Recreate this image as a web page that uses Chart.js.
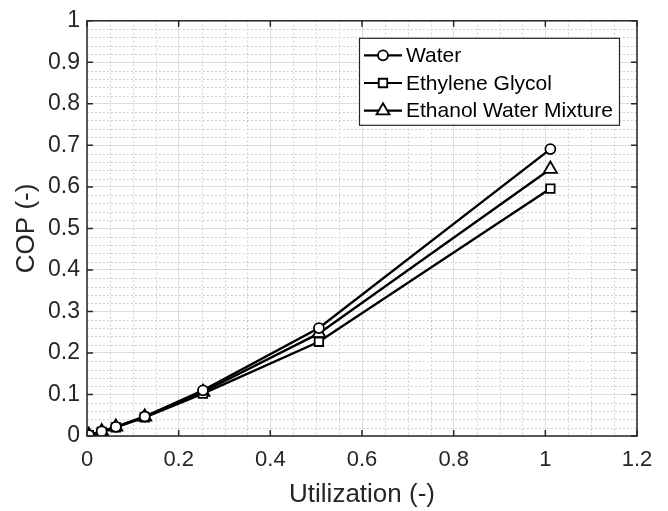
<!DOCTYPE html>
<html>
<head>
<meta charset="utf-8">
<script src="https://cdn.jsdelivr.net/npm/chart.js@4/dist/chart.umd.min.js"></script>
<style>
  html, body { margin: 0; padding: 0; background: #fff; }
  #wrap { width: 668px; height: 511px; position: relative; }
</style>
</head>
<body>
<div id="wrap"><canvas id="cop"></canvas></div>
<script>
// COP vs utilization for three working fluids
const utilization = [0.004, 0.032, 0.063, 0.126, 0.253, 0.506, 1.011];
const copWater    = [0.002, 0.011, 0.022, 0.047, 0.110, 0.260, 0.691];
const copGlycol   = [0.002, 0.010, 0.021, 0.045, 0.102, 0.227, 0.596];
const copEthanol  = [0.002, 0.011, 0.022, 0.046, 0.106, 0.247, 0.643];

const seriesNames = ["Water", "Ethylene Glycol", "Ethanol Water Mixture"];
const xTicks = [0, 0.2, 0.4, 0.6, 0.8, 1, 1.2];
const yTicks = [0, 0.1, 0.2, 0.3, 0.4, 0.5, 0.6, 0.7, 0.8, 0.9, 1];

const FONT = "'Liberation Sans', Arial, Helvetica, sans-serif";
const AXIS = "#262626";

function pts(ys) {
  return utilization.map((x, i) => ({ x, y: ys[i] }));
}

function series(label, ys, style, radius) {
  return {
    label,
    data: pts(ys),
    borderColor: "#000",
    borderWidth: 2.4,
    backgroundColor: "#fff",
    pointStyle: style,
    pointRadius: radius,
    pointBorderWidth: 1.8,
    pointBackgroundColor: "#fff",
    pointBorderColor: "#000",
    tension: 0
  };
}

// "1" not "1.0", "0.2" not "0.2000001"
const fmt = (v) => String(Math.round(v * 100) / 100);

// minor dotted grid, box outline and inward tick marks
const frame = {
  id: "frame",
  beforeDatasetsDraw(chart) {
    const { ctx, chartArea: a, scales: { x, y } } = chart;
    ctx.save();
    ctx.strokeStyle = "#c4c4c4";
    ctx.lineWidth = 1;
    ctx.setLineDash([1.5, 2.5]);
    for (let i = 1; i < 24; i++) {
      if (i % 4 === 0) continue;
      const px = Math.round(x.getPixelForValue(i * 0.05)) + 0.5;
      ctx.beginPath(); ctx.moveTo(px, a.top); ctx.lineTo(px, a.bottom); ctx.stroke();
    }
    for (let i = 1; i < 50; i++) {
      if (i % 5 === 0) continue;
      const py = Math.round(y.getPixelForValue(i * 0.02)) + 0.5;
      ctx.beginPath(); ctx.moveTo(a.left, py); ctx.lineTo(a.right, py); ctx.stroke();
    }
    ctx.restore();
  },
  afterDatasetsDraw(chart) {
    const { ctx, chartArea: a, scales: { x, y } } = chart;
    ctx.save();
    ctx.strokeStyle = AXIS;
    ctx.lineWidth = 1.5;
    ctx.strokeRect(a.left, a.top, a.right - a.left, a.bottom - a.top);
    const t = 6;
    ctx.beginPath();
    xTicks.forEach(v => {
      const px = x.getPixelForValue(v);
      ctx.moveTo(px, a.bottom); ctx.lineTo(px, a.bottom - t);
      ctx.moveTo(px, a.top); ctx.lineTo(px, a.top + t);
    });
    yTicks.forEach(v => {
      const py = y.getPixelForValue(v);
      ctx.moveTo(a.left, py); ctx.lineTo(a.left + t, py);
      ctx.moveTo(a.right, py); ctx.lineTo(a.right - t, py);
    });
    ctx.stroke();
    ctx.restore();
  }
};

// boxed legend in the upper right of the plot
const boxLegend = {
  id: "boxLegend",
  afterDraw(chart) {
    const { ctx, chartArea: a } = chart;
    const w = 260, h = 87;
    const left = a.right - 18 - w, top = a.top + 17;
    ctx.save();
    ctx.fillStyle = "#fff";
    ctx.fillRect(left, top, w, h);
    ctx.strokeStyle = AXIS;
    ctx.lineWidth = 1.2;
    ctx.strokeRect(left + 0.5, top + 0.5, w, h);
    ctx.font = "21px " + FONT;
    ctx.textBaseline = "middle";
    chart.data.datasets.forEach((ds, i) => {
      const cy = top + 17.5 + i * 27.7;
      ctx.strokeStyle = "#000";
      ctx.lineWidth = 2.2;
      ctx.beginPath(); ctx.moveTo(left + 5, cy); ctx.lineTo(left + 43, cy); ctx.stroke();
      ctx.fillStyle = "#fff";
      ctx.lineWidth = 1.8;
      Chart.helpers.drawPoint(ctx, {
        pointStyle: ds.pointStyle, radius: ds.pointRadius, borderWidth: 1.8, rotation: 0
      }, left + 24, cy);
      ctx.fillStyle = "#000";
      ctx.fillText(ds.label, left + 47, cy + 1);
    });
    ctx.restore();
  }
};

new Chart(document.getElementById("cop"), {
  type: "line",
  data: {
    datasets: [
      series(seriesNames[0], copWater, "circle", 5),
      series(seriesNames[1], copGlycol, "rect", 6),
      series(seriesNames[2], copEthanol, "triangle", 7.5)
    ]
  },
  options: {
    responsive: true,
    maintainAspectRatio: false,
    animation: false,
    layout: { padding: { left: 0, top: 16, right: 31, bottom: 0 } },
    plugins: {
      legend: { display: false },
      tooltip: { enabled: false }
    },
    scales: {
      x: {
        type: "linear",
        min: 0,
        max: 1.2,
        afterBuildTicks: (s) => { s.ticks = xTicks.map(v => ({ value: v })); },
        afterFit: (s) => { s.height = 75; },
        ticks: {
          color: AXIS,
          padding: 11,
          maxRotation: 0,
          callback: fmt,
          font: { family: FONT, size: 22 }
        },
        grid: { color: "#dcdcdc", lineWidth: 1, drawTicks: false },
        border: { display: false },
        title: {
          display: true,
          text: "Utilization (-)",
          color: AXIS,
          padding: { top: 0, bottom: 1 },
          font: { family: FONT, size: 26 }
        }
      },
      y: {
        type: "linear",
        min: 0,
        max: 1,
        afterBuildTicks: (s) => { s.ticks = yTicks.map(v => ({ value: v })); },
        afterFit: (s) => { s.width = 87; },
        ticks: {
          color: AXIS,
          padding: 7,
          callback: fmt,
          font: { family: FONT, size: 23 }
        },
        grid: { color: "#dcdcdc", lineWidth: 1, drawTicks: false },
        border: { display: false },
        title: {
          display: true,
          text: "COP (-)",
          color: AXIS,
          padding: { top: 11, bottom: 0 },
          font: { family: FONT, size: 26 }
        }
      }
    }
  },
  plugins: [frame, boxLegend]
});
</script>
</body>
</html>
